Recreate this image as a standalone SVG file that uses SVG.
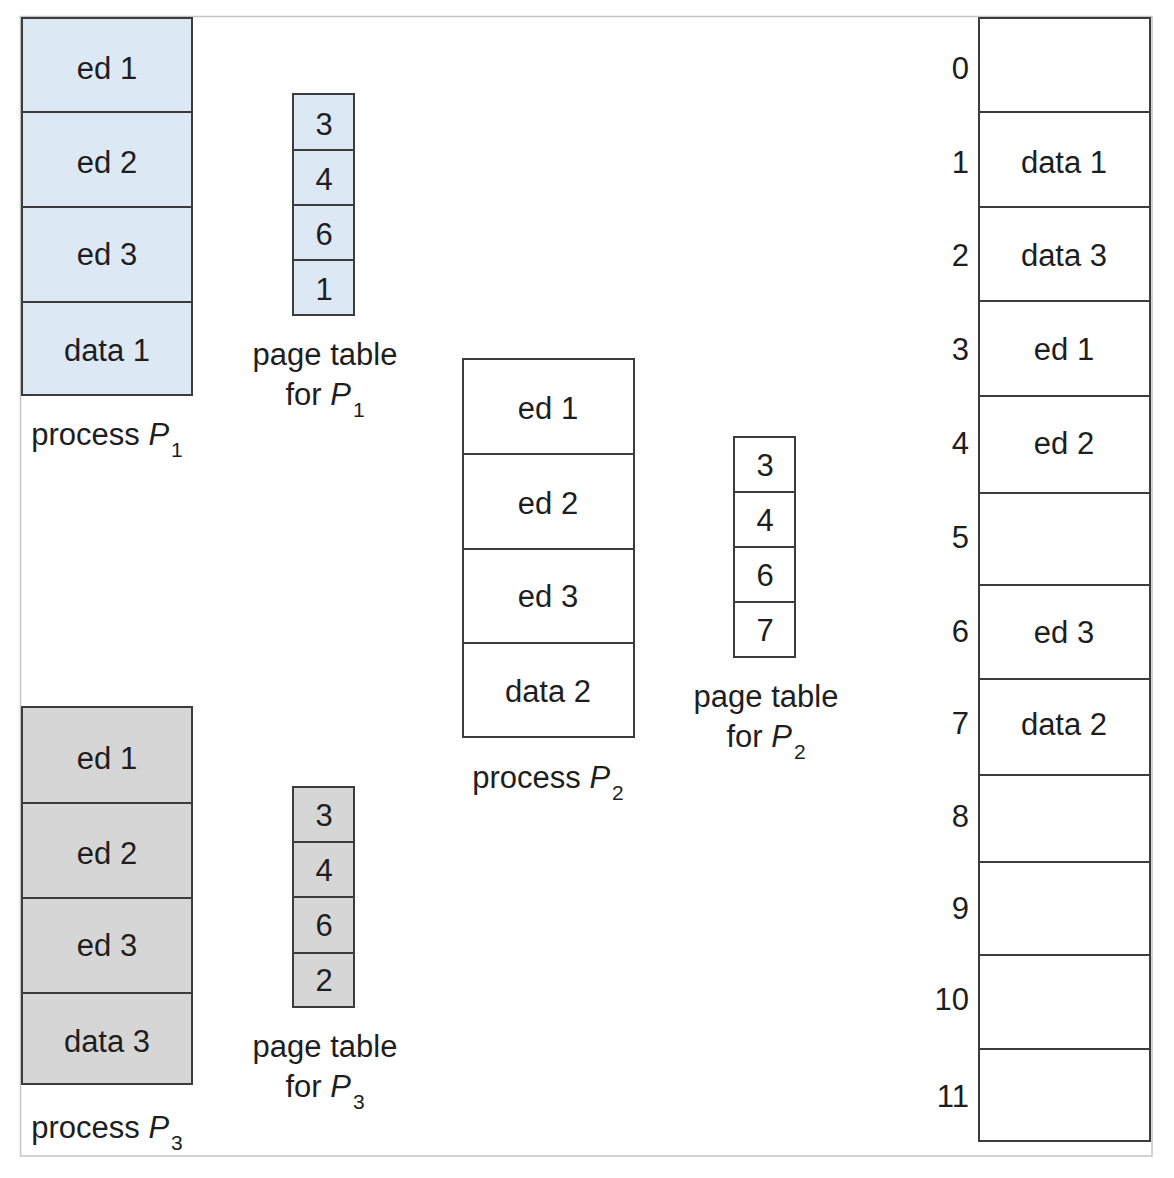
<svg xmlns="http://www.w3.org/2000/svg" width="1174" height="1178" viewBox="0 0 1174 1178">
<style>
.frame{fill:#ffffff;stroke:#c4c4c4;stroke-width:1.5}
.box{stroke:#3c3c3c;stroke-width:2}
.div{stroke:#3c3c3c;stroke-width:2}
.blue{fill:#dde8f5}
.gray{fill:#d6d6d6}
.white{fill:#ffffff}
text{font-family:"Liberation Sans",Arial,sans-serif;font-size:31px;fill:#1e1e1e;text-anchor:middle}
.num{text-anchor:end}
.it{font-style:italic}
.sub{font-size:21px}
</style>
<rect class="frame" x="20.5" y="16.5" width="1131.5" height="1139.5"/>

<g id="process-p1">
<rect class="box blue" x="22" y="18" width="170" height="377"/>
<line class="div" x1="22" y1="112" x2="192" y2="112"/>
<line class="div" x1="22" y1="207" x2="192" y2="207"/>
<line class="div" x1="22" y1="302" x2="192" y2="302"/>
<text x="107" y="79">ed 1</text>
<text x="107" y="173">ed 2</text>
<text x="107" y="265">ed 3</text>
<text x="107" y="361">data 1</text>
<text x="107" y="445">process <tspan class="it">P</tspan><tspan class="sub" dx="2" dy="12">1</tspan></text>
</g>

<g id="page-table-p1">
<rect class="box blue" x="293" y="94" width="61" height="221"/>
<line class="div" x1="293" y1="150" x2="354" y2="150"/>
<line class="div" x1="293" y1="205" x2="354" y2="205"/>
<line class="div" x1="293" y1="260" x2="354" y2="260"/>
<text x="324" y="135">3</text>
<text x="324" y="190">4</text>
<text x="324" y="245">6</text>
<text x="324" y="300">1</text>
<text x="325" y="365">page table</text>
<text x="325" y="405">for <tspan class="it">P</tspan><tspan class="sub" dx="2" dy="12">1</tspan></text>
</g>

<g id="process-p2">
<rect class="box white" x="463" y="359" width="171" height="378"/>
<line class="div" x1="463" y1="454" x2="634" y2="454"/>
<line class="div" x1="463" y1="549" x2="634" y2="549"/>
<line class="div" x1="463" y1="643" x2="634" y2="643"/>
<text x="548" y="419">ed 1</text>
<text x="548" y="514">ed 2</text>
<text x="548" y="607">ed 3</text>
<text x="548" y="702">data 2</text>
<text x="548" y="788">process <tspan class="it">P</tspan><tspan class="sub" dx="2" dy="12">2</tspan></text>
</g>

<g id="page-table-p2">
<rect class="box white" x="734" y="437" width="61" height="220"/>
<line class="div" x1="734" y1="492" x2="795" y2="492"/>
<line class="div" x1="734" y1="547" x2="795" y2="547"/>
<line class="div" x1="734" y1="602" x2="795" y2="602"/>
<text x="765" y="476">3</text>
<text x="765" y="531">4</text>
<text x="765" y="586">6</text>
<text x="765" y="641">7</text>
<text x="766" y="707">page table</text>
<text x="766" y="747">for <tspan class="it">P</tspan><tspan class="sub" dx="2" dy="12">2</tspan></text>
</g>

<g id="process-p3">
<rect class="box gray" x="22" y="707" width="170" height="377"/>
<line class="div" x1="22" y1="803" x2="192" y2="803"/>
<line class="div" x1="22" y1="898" x2="192" y2="898"/>
<line class="div" x1="22" y1="993" x2="192" y2="993"/>
<text x="107" y="769">ed 1</text>
<text x="107" y="864">ed 2</text>
<text x="107" y="956">ed 3</text>
<text x="107" y="1052">data 3</text>
<text x="107" y="1138">process <tspan class="it">P</tspan><tspan class="sub" dx="2" dy="12">3</tspan></text>
</g>

<g id="page-table-p3">
<rect class="box gray" x="293" y="787" width="61" height="220"/>
<line class="div" x1="293" y1="842" x2="354" y2="842"/>
<line class="div" x1="293" y1="897" x2="354" y2="897"/>
<line class="div" x1="293" y1="953" x2="354" y2="953"/>
<text x="324" y="826">3</text>
<text x="324" y="881">4</text>
<text x="324" y="936">6</text>
<text x="324" y="991">2</text>
<text x="325" y="1057">page table</text>
<text x="325" y="1097">for <tspan class="it">P</tspan><tspan class="sub" dx="2" dy="12">3</tspan></text>
</g>

<g id="physical-memory">
<rect class="box white" x="979" y="18" width="171" height="1123"/>
<line class="div" x1="979" y1="112" x2="1150" y2="112"/>
<line class="div" x1="979" y1="207" x2="1150" y2="207"/>
<line class="div" x1="979" y1="301" x2="1150" y2="301"/>
<line class="div" x1="979" y1="396" x2="1150" y2="396"/>
<line class="div" x1="979" y1="493" x2="1150" y2="493"/>
<line class="div" x1="979" y1="585" x2="1150" y2="585"/>
<line class="div" x1="979" y1="679" x2="1150" y2="679"/>
<line class="div" x1="979" y1="775" x2="1150" y2="775"/>
<line class="div" x1="979" y1="862" x2="1150" y2="862"/>
<line class="div" x1="979" y1="955" x2="1150" y2="955"/>
<line class="div" x1="979" y1="1049" x2="1150" y2="1049"/>
<text class="num" x="969" y="79">0</text>
<text class="num" x="969" y="173">1</text>
<text class="num" x="969" y="266">2</text>
<text class="num" x="969" y="360">3</text>
<text class="num" x="969" y="454">4</text>
<text class="num" x="969" y="548">5</text>
<text class="num" x="969" y="642">6</text>
<text class="num" x="969" y="734">7</text>
<text class="num" x="969" y="827">8</text>
<text class="num" x="969" y="919">9</text>
<text class="num" x="969" y="1010">10</text>
<text class="num" x="969" y="1107">11</text>
<text x="1064" y="173">data 1</text>
<text x="1064" y="266">data 3</text>
<text x="1064" y="360">ed 1</text>
<text x="1064" y="454">ed 2</text>
<text x="1064" y="643">ed 3</text>
<text x="1064" y="735">data 2</text>
</g>

<g id="connectors"></g>
</svg>
